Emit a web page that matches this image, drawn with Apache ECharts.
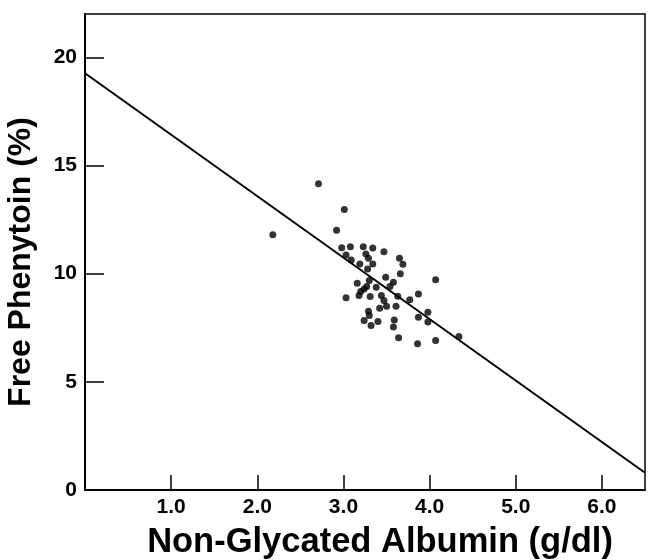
<!DOCTYPE html>
<html>
<head>
<meta charset="utf-8">
<script src="https://cdn.jsdelivr.net/npm/echarts@6/dist/echarts.min.js"></script>
<style>html,body{margin:0;padding:0;background:#fff;}#c{width:648px;height:560px;}</style>
</head>
<body>
<div id="c"></div>
<script>
// Non-glycated albumin (g/dl)
var albumin = [2.71,3.01,2.18,2.92,2.98,3.08,3.03,3.09,3.23,3.34,3.47,3.26,3.29,3.34,3.19,3.28,3.65,3.69,3.66,3.49,4.07,3.16,3.30,3.27,3.38,3.58,3.54,3.20,3.24,3.03,3.18,3.31,3.44,3.47,3.63,3.87,3.77,3.50,3.42,3.61,3.29,3.30,3.24,3.40,3.32,3.59,3.58,3.87,3.98,3.98,3.64,3.86,4.07,4.34];
// Free phenytoin (%)
var phenytoin = [14.16,12.96,11.80,12.00,11.20,11.24,10.86,10.63,11.24,11.18,11.01,10.91,10.71,10.45,10.45,10.22,10.71,10.43,9.99,9.83,9.72,9.55,9.68,9.40,9.37,9.60,9.40,9.17,9.29,8.88,8.99,8.94,8.99,8.76,8.95,9.06,8.79,8.49,8.40,8.49,8.26,8.06,7.83,7.79,7.60,7.86,7.53,7.99,8.22,7.76,7.04,6.76,6.91,7.10];
// Regression line end points
var fitX = [0, 6.5];
var fitY = [19.26, 0.80];
var xTicks = [1, 2, 3, 4, 5, 6];
var yTicks = [0, 5, 10, 15, 20];

var pts = albumin.map(function (a, i) { return [a, phenytoin[i]]; });
var line = fitX.map(function (a, i) { return [a, fitY[i]]; });
var FONT = '"Liberation Sans", Arial, Helvetica, sans-serif';

var chart = echarts.init(document.getElementById('c'), null, {renderer: 'canvas'});
chart.setOption({
  animation: false,
  backgroundColor: '#fff',
  grid: {left: 85, right: 3, top: 14, bottom: 70, containLabel: false, outerBoundsMode: 'none',
         show: true, borderColor: '#000', borderWidth: 1.5, backgroundColor: 'transparent'},
  xAxis: {
    type: 'value', min: 0, max: 6.5, interval: 1,
    name: 'Non-Glycated Albumin (g/dl)', nameLocation: 'middle', nameGap: 35,
    nameTextStyle: {fontFamily: FONT, fontWeight: 'bold', fontSize: 34.5, color: '#000', padding: [0, 0, 0, 30]},
    axisLine: {lineStyle: {color: '#000', width: 2}},
    axisTick: {inside: true, length: 15, lineStyle: {color: '#000', width: 1.5}},
    axisLabel: {
      showMaxLabel: false, margin: 7, color: '#000', fontFamily: FONT, fontWeight: 'bold', fontSize: 21,
      formatter: function (v) { return xTicks.indexOf(v) >= 0 ? v.toFixed(1) : ''; }
    },
    splitLine: {show: false}
  },
  yAxis: {
    type: 'value', min: 0, max: 22, interval: 5,
    name: 'Free Phenytoin (%)', nameLocation: 'middle', nameGap: 48,
    nameTextStyle: {fontFamily: FONT, fontWeight: 'bold', fontSize: 32, color: '#000', padding: [0, 20, 0, 0]},
    axisLine: {lineStyle: {color: '#000', width: 2}},
    axisTick: {inside: true, length: 19, lineStyle: {color: '#000', width: 1.5}},
    axisLabel: {
      showMaxLabel: false, margin: 8, color: '#000', fontFamily: FONT, fontWeight: 'bold', fontSize: 21,
      formatter: function (v) { return yTicks.indexOf(v) >= 0 ? String(v) : ''; }
    },
    splitLine: {show: false}
  },
  series: [
    {type: 'line', data: line, symbol: 'none', lineStyle: {color: '#000', width: 2}, z: 2},
    {type: 'scatter', data: pts, symbol: 'circle', symbolSize: 7, itemStyle: {color: '#000'}, z: 3}
  ]
});
</script>
</body>
</html>
